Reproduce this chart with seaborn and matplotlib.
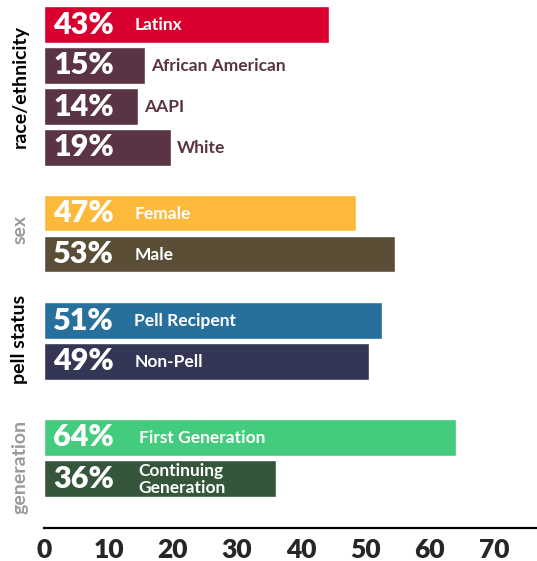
import matplotlib
matplotlib.use("Agg")
import matplotlib.pyplot as plt
import seaborn as sns

sns.set_style("white")
plt.rcParams['font.family'] = ['Lato', 'DejaVu Sans']

# ---- data ----
race_cats = ["Latinx", "African American", "AAPI", "White"]
race_vals = [44.3, 15.7, 14.6, 19.7]
race_pcts = ["43%", "15%", "14%", "19%"]
race_colors = ["#d9002f", "#5a3444", "#5a3444", "#5a3444"]

sex_cats = ["Female", "Male"]
sex_vals = [48.5, 54.6]
sex_pcts = ["47%", "53%"]
sex_colors = ["#fdb93a", "#5b4e37"]

pell_cats = ["Pell Recipent", "Non-Pell"]
pell_vals = [52.6, 50.6]
pell_pcts = ["51%", "49%"]
pell_colors = ["#27709d", "#343655"]

gen_cats = ["First Generation", "Continuing\nGeneration"]
gen_vals = [64.1, 36.0]
gen_pcts = ["64%", "36%"]
gen_colors = ["#43cc7e", "#35563a"]

group_titles = ["race/ethnicity", "sex", "pell status", "generation"]
title_colors = ["black", "#9a9a9a", "black", "#9a9a9a"]

xticks = [0, 10, 20, 30, 40, 50, 60, 70]

groups = [
    (race_cats, race_vals, race_pcts, race_colors),
    (sex_cats, sex_vals, sex_pcts, sex_colors),
    (pell_cats, pell_vals, pell_pcts, pell_colors),
    (gen_cats, gen_vals, gen_pcts, gen_colors),
]

W, H = 537, 561
fig = plt.figure(figsize=(W / 100, H / 100), dpi=100)

# axes boxes in pixel coords (top, bottom)
boxes = [(4, 168), (193, 274), (300, 382), (417, 528)]
title_y = [86, 229, 339, 467]
left_px = 44.3
XMAX = 76.7
label_min_x = 14.0

for i, ((cats, vals, pcts, cols), (top, bot)) in enumerate(zip(groups, boxes)):
    ax = fig.add_axes([left_px / W, 1 - bot / H, 1 - left_px / W, (bot - top) / H])
    sns.barplot(x=vals, y=cats, hue=cats, palette=cols, legend=False,
                orient="h", width=0.9, ax=ax, saturation=1)
    n = len(cats)
    unit = 41.0
    extra = (bot - top) / unit - n
    ax.set_ylim(n - 0.5 + (extra if i == 3 else 0), -0.5)
    ax.set_xlim(0, XMAX)
    ax.set_yticks([])
    ax.set_ylabel("")
    for s in ["top", "right", "left"]:
        ax.spines[s].set_visible(False)
    if i < 3:
        ax.spines["bottom"].set_visible(False)
        ax.set_xticks([])
    else:
        ax.spines["bottom"].set_linewidth(1.6)
        ax.spines["bottom"].set_color("black")
        ax.set_xticks(xticks)
        ax.tick_params(axis="x", direction="in", length=9, width=1.3,
                       color="black", pad=7)
        for t in ax.get_xticklabels():
            t.set_fontsize(19)
            t.set_fontweight("heavy")
    for j, (v, p, c) in enumerate(zip(vals, pcts, cols)):
        ax.text(1.4, j, p, color="white", fontsize=22, fontweight="heavy",
                va="center", ha="left")
        lx = label_min_x + (0.7 if i == 3 else 0)
        lc = "white"
        if v < 30:
            lx = max(lx, v + 0.9)
            lc = c
        ax.text(lx, j + 0.02, cats[j], color=lc, fontsize=12.5,
                fontweight="bold", va="center", ha="left", linespacing=1.05)
    fig.text(20 / W, 1 - title_y[i] / H, group_titles[i], rotation=90,
             color=title_colors[i], fontsize=14, fontweight="bold",
             ha="center", va="center")

fig.savefig("out.png", dpi=100)
